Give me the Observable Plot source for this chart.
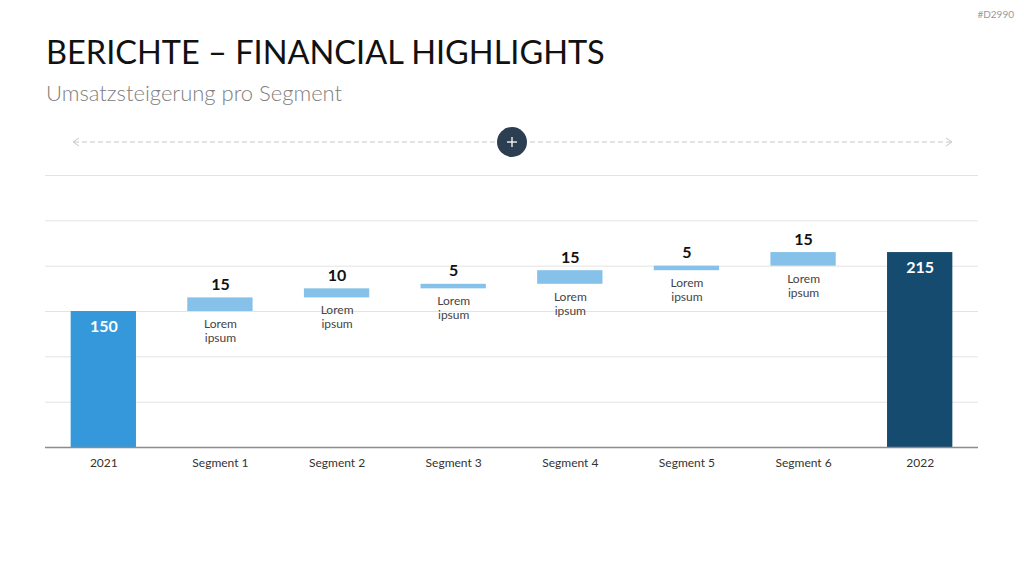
<!DOCTYPE html>
<html>
<head>
<meta charset="utf-8">
<script src="https://cdn.jsdelivr.net/npm/d3@7"></script>
<script src="https://cdn.jsdelivr.net/npm/@observablehq/plot@0.6"></script>
<style>
  html, body { margin: 0; padding: 0; background: #fff; }
  body { width: 1024px; height: 576px; position: relative; overflow: hidden; font-family: Lato, "Open Sans", sans-serif; }
  #code { position: absolute; right: 10px; top: 8px; font-size: 10px; color: #999; }
  #title { position: absolute; left: 46px; top: 36px; font-size: 32.5px; color: #111; white-space: nowrap; line-height: 1; }
  #subtitle { position: absolute; left: 46px; top: 82px; font-size: 22px; color: #808080; font-weight: 300; white-space: nowrap; line-height: 1; }
  #deco { position: absolute; left: 0; top: 120px; }
  #chart { position: absolute; left: 0; top: 160px; }
</style>
</head>
<body>
<div id="code">#D2990</div>
<div id="title">BERICHTE – FINANCIAL HIGHLIGHTS</div>
<div id="subtitle">Umsatzsteigerung pro Segment</div>
<svg id="deco" width="1024" height="45">
  <line x1="74" y1="22" x2="952" y2="22" stroke="#c8c8c8" stroke-width="1" stroke-dasharray="5,3"/>
  <polyline points="79,18 73,22 79,26" fill="none" stroke="#c8c8c8" stroke-width="1"/>
  <polyline points="946,18 952,22 946,26" fill="none" stroke="#c8c8c8" stroke-width="1"/>
  <circle cx="512" cy="22" r="15" fill="#2b3e52"/>
  <line x1="507" y1="22" x2="517" y2="22" stroke="#fff" stroke-width="1.3"/>
  <line x1="512" y1="17" x2="512" y2="27" stroke="#fff" stroke-width="1.3"/>
</svg>
<div id="chart"></div>
<script>
const categories = ["2021", "Segment 1", "Segment 2", "Segment 3", "Segment 4", "Segment 5", "Segment 6", "2022"];
const values = [150, 15, 10, 5, 15, 5, 15, 215];
const kinds = ["start", "delta", "delta", "delta", "delta", "delta", "delta", "end"];
const notes = ["", "Lorem\nipsum", "Lorem\nipsum", "Lorem\nipsum", "Lorem\nipsum", "Lorem\nipsum", "Lorem\nipsum", ""];
const gridTicks = [50, 100, 150, 200, 250, 300];

let running = 0;
const rows = categories.map((c, i) => {
  let y1, y2;
  if (kinds[i] === "delta") { y1 = running; y2 = running + values[i]; running = y2; }
  else { y1 = 0; y2 = values[i]; running = values[i]; }
  return {cat: c, value: values[i], kind: kinds[i], y1, y2, note: notes[i]};
});
const deltas = rows.filter(d => d.kind === "delta");
const totals = rows.filter(d => d.kind !== "delta");
const colors = {start: "#3498db", delta: "#85c1e9", end: "#164b70"};

const chart = Plot.plot({
  width: 1024,
  height: 327,
  marginLeft: 45,
  marginRight: 46,
  marginTop: 15,
  marginBottom: 40,
  style: {fontFamily: "Lato, 'Open Sans', sans-serif", background: "transparent"},
  x: {domain: categories, paddingInner: 0.44, paddingOuter: 0.22, round: false, label: null, tickSize: 0, tickPadding: 12},
  y: {domain: [0, 300], axis: null},
  marks: [
    Plot.ruleY(gridTicks, {stroke: "#e3e3e3", strokeWidth: 1}),
    Plot.barY(rows, {x: "cat", y1: "y1", y2: "y2", fill: d => colors[d.kind]}),
    Plot.ruleY([0], {stroke: "#8c8c8c", strokeWidth: 1.5}),
    Plot.text(deltas, {x: "cat", y: "y2", text: d => String(d.value), dy: -13, fontSize: 16, fontWeight: "bold", fill: "#111"}),
    Plot.text(deltas, {x: "cat", y: "y1", text: "note", dy: 19, fontSize: 12, fill: "#444", lineHeight: 1.17}),
    Plot.text(totals, {x: "cat", y: "y2", text: d => String(d.value), dy: 15, fontSize: 16, fontWeight: "bold", fill: "#fff"}),
    Plot.axisX({tickSize: 0, tickPadding: 11, fontSize: 12, color: "#333", label: null})
  ]
});
document.getElementById("chart").appendChild(chart);
</script>
</body>
</html>
